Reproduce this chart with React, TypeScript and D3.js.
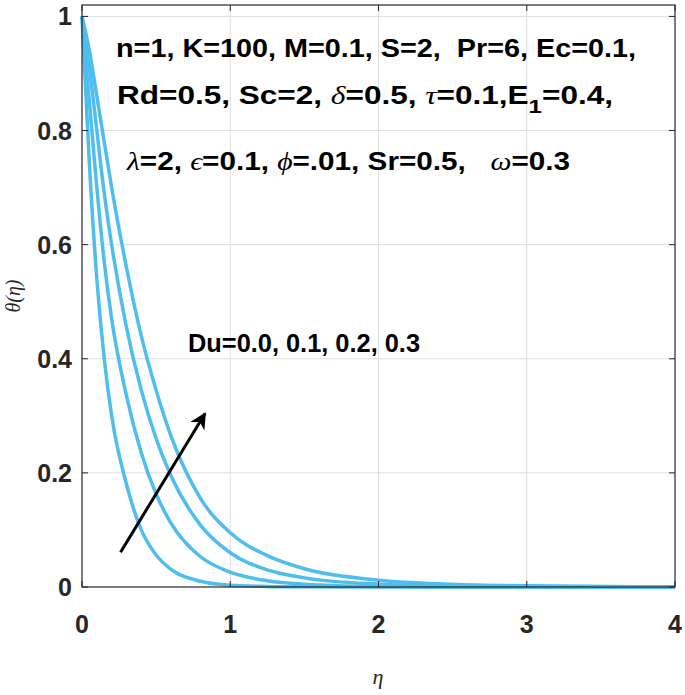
import React from "react";
import * as d3 from "d3";

// eta grid and temperature profiles
const etaValues = [0, 0.05, 0.1, 0.15, 0.2, 0.3, 0.4, 0.5, 0.6, 0.8, 1.0, 1.25, 1.5, 2, 2.5, 3, 4];
const thetaDu00 = [1, 0.74, 0.54, 0.4, 0.3, 0.18, 0.1, 0.056, 0.031, 0.01, 0.003, 0.001, 0.0003, 0, 0, 0, 0];
const thetaDu01 = [1, 0.85, 0.7, 0.57, 0.47, 0.335, 0.235, 0.163, 0.112, 0.053, 0.026, 0.011, 0.005, 0.001, 0.0002, 0, 0];
const thetaDu02 = [1, 0.91, 0.8, 0.69, 0.6, 0.455, 0.345, 0.26, 0.195, 0.108, 0.06, 0.03, 0.016, 0.005, 0.0015, 0.0005, 0];
const thetaDu03 = [1, 0.94, 0.86, 0.78, 0.7, 0.56, 0.44, 0.345, 0.265, 0.155, 0.095, 0.055, 0.032, 0.012, 0.005, 0.002, 0];
const seriesList = [thetaDu00, thetaDu01, thetaDu02, thetaDu03];

const xTicks = [0, 1, 2, 3, 4];
const yTicks = [0, 0.2, 0.4, 0.6, 0.8, 1];
const yTickLabels = ["0", "0.2", "0.4", "0.6", "0.8", "1"];

const W = 685;
const H = 695;
const left = 82;
const right = 675;
const top = 5;
const bottom = 587;

const lineColor = "#4DBEEE";
const sans = "'Liberation Sans', Arial, sans-serif";
const serif = "'Liberation Serif', 'Times New Roman', serif";
const nb = "\u00A0";

export default function App() {
  const x = d3.scaleLinear().domain([0, 4]).range([left, right]);
  const y = d3.scaleLinear().domain([0, 1.02]).range([bottom, top]);

  const line = d3
    .line<number>()
    .x((_, i) => x(etaValues[i]))
    .y((d) => y(d))
    .curve(d3.curveMonotoneX);

  const greek = (s: string) => (
    <tspan fontFamily={serif} fontStyle="italic" fontWeight="normal">
      {s}
    </tspan>
  );

  return (
    <svg
      width={W}
      height={H}
      style={{ position: "absolute", left: 0, top: 0, background: "#fff" }}
    >
      <defs>
        <marker
          id="head"
          viewBox="0 0 10 10"
          refX="9"
          refY="5"
          markerWidth="5.5"
          markerHeight="5.5"
          orient="auto"
        >
          <path d="M0,0 L10,5 L0,10 L3,5 Z" fill="#000" />
        </marker>
      </defs>
      <rect x={left} y={top} width={right - left} height={bottom - top} fill="#fff" />

      {/* grid */}
      {xTicks.slice(1, -1).map((t) => (
        <line key={"gx" + t} x1={x(t)} x2={x(t)} y1={top} y2={bottom} stroke="#dedede" strokeWidth={1} />
      ))}
      {yTicks.slice(1).map((t) => (
        <line key={"gy" + t} x1={left} x2={right} y1={y(t)} y2={y(t)} stroke="#dedede" strokeWidth={1} />
      ))}

      {/* curves */}
      {seriesList.map((s, i) => (
        <path key={i} d={line(s) || ""} fill="none" stroke={lineColor} strokeWidth={3.5} />
      ))}

      {/* box and ticks */}
      <rect x={left} y={top} width={right - left} height={bottom - top} fill="none" stroke="#262626" strokeWidth={1.2} />
      {xTicks.map((t) => (
        <g key={"tx" + t}>
          <line x1={x(t)} x2={x(t)} y1={bottom} y2={bottom - 6} stroke="#262626" />
          <line x1={x(t)} x2={x(t)} y1={top} y2={top + 6} stroke="#262626" />
          <text x={x(t)} y={633} textAnchor="middle" fontFamily={sans} fontWeight="bold" fontSize={25} fill="#262626">
            {t}
          </text>
        </g>
      ))}
      {yTicks.map((t, i) => (
        <g key={"ty" + t}>
          <line x1={left} x2={left + 6} y1={y(t)} y2={y(t)} stroke="#262626" />
          <line x1={right} x2={right - 6} y1={y(t)} y2={y(t)} stroke="#262626" />
          <text x={72} y={y(t) + 9} textAnchor="end" fontFamily={sans} fontWeight="bold" fontSize={25} fill="#262626">
            {yTickLabels[i]}
          </text>
        </g>
      ))}

      {/* axis labels */}
      <text x={378} y={684} textAnchor="middle" fontFamily={serif} fontStyle="italic" fontSize={22} fill="#262626">
        η
      </text>
      <text
        transform={`translate(20,${(top + bottom) / 2}) rotate(-90)`}
        textAnchor="middle"
        fontFamily={serif}
        fontStyle="italic"
        fontSize={20}
        fill="#262626"
      >
        θ(η)
      </text>

      {/* parameter annotation */}
      <g fontFamily={sans} fontWeight="bold" fontSize={25} fill="#000">
        <text x={116} y={57} textLength={520} lengthAdjust="spacingAndGlyphs">
          {`n=1, K=100, M=0.1, S=2,${nb}${nb}Pr=6, Ec=0.1,`}
        </text>
        <text x={117} y={104} textLength={496} lengthAdjust="spacingAndGlyphs">
          Rd=0.5, Sc=2, {greek("δ")}=0.5, {greek("τ")}=0.1,E
          <tspan fontSize={19} dy={9}>1</tspan>
          <tspan dy={-9}>=0.4,</tspan>
        </text>
        <text x={127} y={170} textLength={443} lengthAdjust="spacingAndGlyphs">
          {greek("λ")}=2, {greek("ϵ")}=0.1, {greek("ϕ")}
          {`=.01, Sr=0.5,${nb}${nb}${nb}`}
          {greek("ω")}=0.3
        </text>
        <text x={188} y={352} textLength={232} lengthAdjust="spacingAndGlyphs">
          Du=0.0, 0.1, 0.2, 0.3
        </text>
      </g>

      {/* arrow */}
      <line
        x1={x(0.26)}
        y1={y(0.061)}
        x2={x(0.83)}
        y2={y(0.304)}
        stroke="#000"
        strokeWidth={3}
        markerEnd="url(#head)"
      />
    </svg>
  );
}
